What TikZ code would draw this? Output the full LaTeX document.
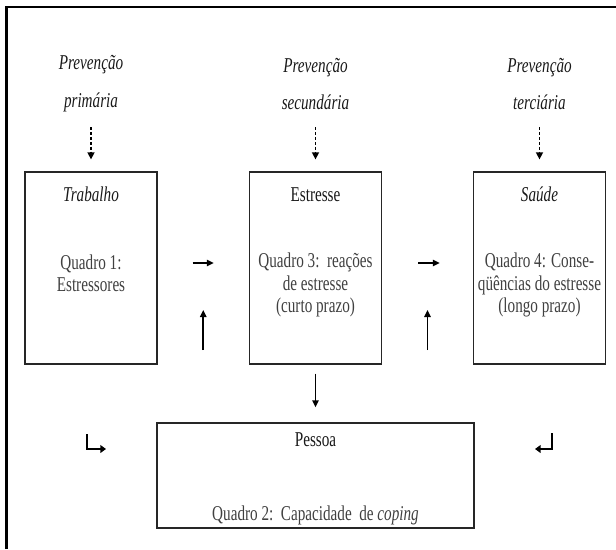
\documentclass[tikz,border=0pt]{standalone}
\usepackage{fontspec}
\setmainfont[FakeStretch=0.72]{Liberation Serif}
\usepackage{tikz}
\usetikzlibrary{arrows.meta, positioning, calc}

\begin{document}
\begin{tikzpicture}[
    box/.style={draw=black!85, line width=0.9pt, minimum width=3.3cm, minimum height=4.8cm},
    title/.style={font=\fontsize{15}{15.8}\selectfont, text=black!90},
    body/.style={font=\fontsize{15}{15.8}\selectfont, align=center, text=black!75},
    prev/.style={font=\fontsize{15}{27}\selectfont\itshape, align=center, text=black!90},
    dasharrow/.style={line width=1pt, dash pattern=on 2.2pt off 1.3pt, -{Triangle[length=5pt, width=5pt]}, shorten <=1.075cm, shorten >=0.3cm},
    arr/.style={line width=1.1pt, -{Triangle[length=5pt, width=4.5pt]}},
    hookarr/.style={line width=1.7pt, -{Triangle[length=4pt, width=5.5pt]}}
]
    \useasboundingbox (0,0) rectangle (15.4,-13.725);
    \draw[line width=1.5pt] (0.1625,-13.725) |- (15.4,-0.175);

    \node[box] (trab) at (2.275,-6.7) {};
    \node[title, font=\fontsize{15}{15.8}\selectfont\itshape] (trabT) at ([yshift=-0.575cm]trab.north) {Trabalho};
    \node[body] (trabB) at ([yshift=-0.1375cm]trab.center) {Quadro 1:\\Estressores};

    \node[box] (estr) at (7.8875,-6.7) {};
    \node[title] (estrT) at ([yshift=-0.575cm]estr.north) {Estresse};
    \node[body] (estrB) at ([yshift=-0.425cm]estr.center) {Quadro 3:~~reações\\de estresse\\(curto prazo)};

    \node[box] (saude) at (13.4875,-6.7) {};
    \node[title, font=\fontsize{15}{15.8}\selectfont\itshape] (saudeT) at ([yshift=-0.575cm]saude.north) {Saúde};
    \node[body] (saudeB) at ([yshift=-0.425cm]saude.center) {Quadro 4: Conse-\\qüências do estresse\\(longo prazo)};

    \node[box, minimum width=7.925cm, minimum height=2.625cm] (pessoa) at (7.8875,-11.8875) {};
    \node[title] (pessoaT) at ([yshift=-0.425cm]pessoa.north) {Pessoa};
    \node[body] (pessoaB) at ([yshift=0.325cm]pessoa.south) {Quadro 2:~~Capacidade~~de \textit{coping}};

    \node[prev] (prim) at (2.275,-2.1) {Prevenção\\primária};
    \node[prev] (secu) at (7.8875,-2.1) {Prevenção\\secundária};
    \node[prev] (terc) at (13.4875,-2.1) {Prevenção\\terciária};
    \draw[dasharrow] (prim.center) -- (trab.north);
    \draw[dasharrow] (secu.center) -- (estr.north);
    \draw[dasharrow] (terc.center) -- (saude.north);

    \draw[arr, line width=1.8pt, shorten <=0.875cm, shorten >=0.875cm] ([yshift=0.125cm]trab.east) -- ([yshift=0.125cm]estr.west);
    \draw[arr, line width=1.8pt, shorten <=0.9cm, shorten >=0.825cm] ([yshift=0.125cm]estr.east) -- ([yshift=0.125cm]saude.west);
    \draw[arr, shorten <=0.225cm, shorten >=0.375cm] (estr.south) -- (pessoa.north);

    \coordinate (m1) at ($(trab.east)!0.5!(estr.west)$);
    \coordinate (m2) at ($(estr.east)!0.5!(saude.west)$);
    \coordinate (u1s) at ($(m1)+(0,-2.05)$);
    \coordinate (u1e) at ($(m1)+(0,-1.05)$);
    \coordinate (u2s) at ($(m2)+(0,-2.05)$);
    \coordinate (u2e) at ($(m2)+(0,-1.05)$);
    \draw[arr] (u1s) -- (u1e);
    \draw[arr] (u2s) -- (u2e);

    \coordinate (h1) at (2.175,-10.85);
    \coordinate (h1e) at (2.65,-11.225);
    \coordinate (h2) at (13.8,-10.825);
    \coordinate (h2e) at (13.375,-11.225);
    \draw[hookarr] (h1) |- (h1e);
    \draw[hookarr] (h2) |- (h2e);
\end{tikzpicture}
\end{document}
